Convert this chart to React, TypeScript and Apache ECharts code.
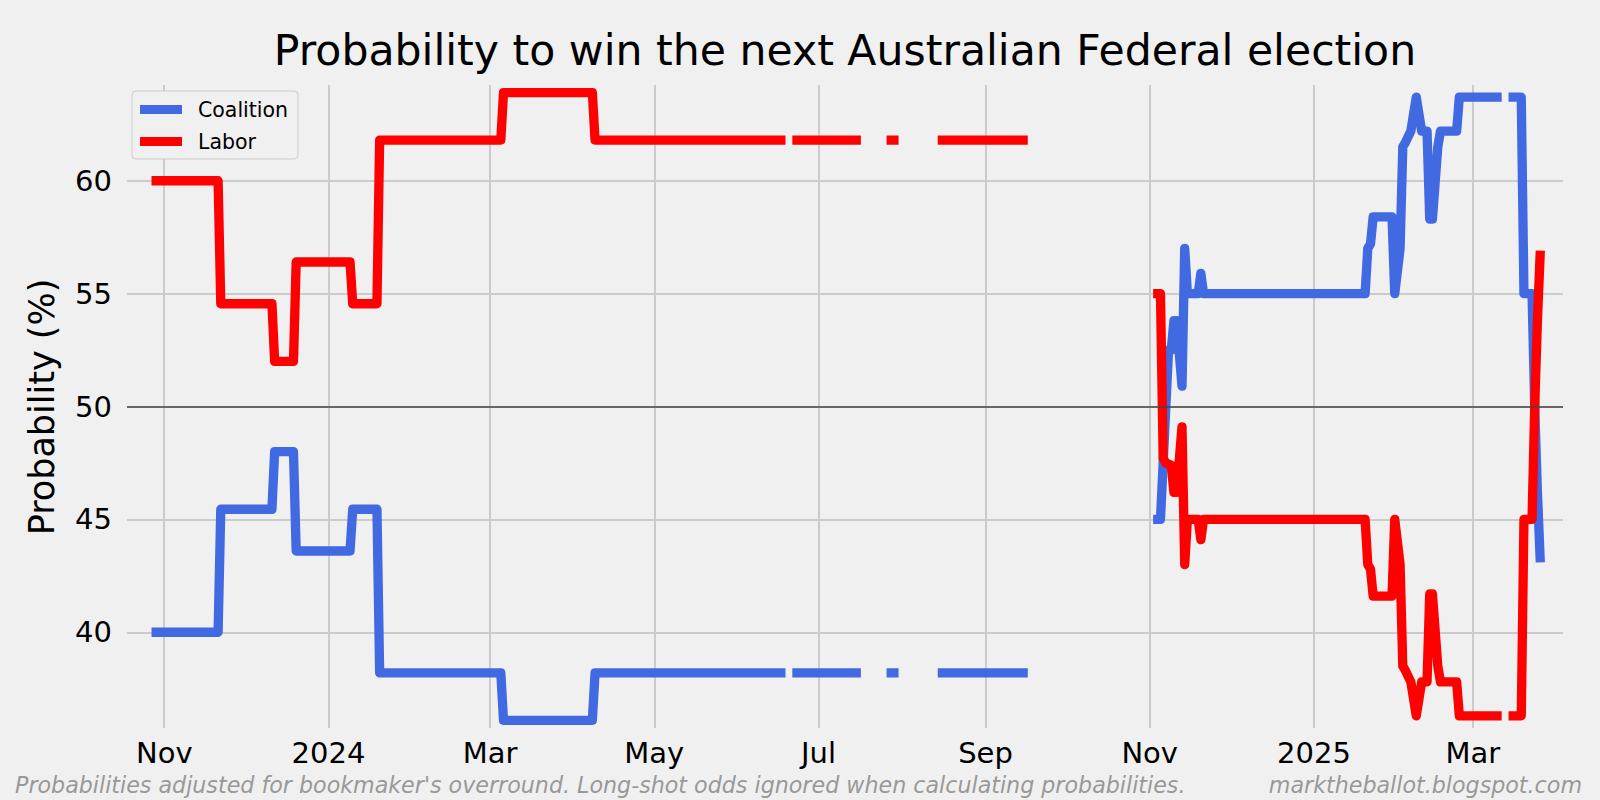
import React, { useEffect, useRef } from "react";
import * as echarts from "echarts";

// ---- data ----
const coalition: [string, number | null][] = [
  ["2023-10-29", 40.0], ["2023-11-21", 40.0], ["2023-11-22", 45.45], ["2023-12-11", 45.45],
  ["2023-12-12", 48.0], ["2023-12-19", 48.0], ["2023-12-20", 43.6], ["2024-01-09", 43.6],
  ["2024-01-10", 45.45], ["2024-01-19", 45.45], ["2024-01-20", 38.2], ["2024-03-05", 38.2],
  ["2024-03-06", 36.1], ["2024-04-08", 36.1], ["2024-04-09", 38.2], ["2024-06-17", 38.2],
  ["2024-06-20", null], ["2024-06-23", 38.2], ["2024-07-15", 38.2], ["2024-07-20", null],
  ["2024-07-28", 38.2], ["2024-07-29", 38.2], ["2024-08-05", null], ["2024-08-16", 38.2],
  ["2024-09-15", 38.2], ["2024-10-10", null],
  ["2024-11-04", 45.0], ["2024-11-05", 45.0], ["2024-11-08", 52.5], ["2024-11-09", 52.5],
  ["2024-11-10", 53.8], ["2024-11-11", 53.8], ["2024-11-13", 50.9], ["2024-11-14", 57.0],
  ["2024-11-15", 55.0], ["2024-11-19", 55.0], ["2024-11-20", 55.9], ["2024-11-21", 55.0],
  ["2025-01-20", 55.0], ["2025-01-21", 57.0], ["2025-01-22", 57.2], ["2025-01-23", 58.4],
  ["2025-01-30", 58.4], ["2025-01-31", 55.0], ["2025-02-02", 57.0], ["2025-02-03", 61.5],
  ["2025-02-04", 61.7], ["2025-02-06", 62.2], ["2025-02-08", 63.7], ["2025-02-10", 62.2],
  ["2025-02-12", 62.2], ["2025-02-13", 58.3], ["2025-02-14", 58.3], ["2025-02-16", 61.5],
  ["2025-02-17", 62.2], ["2025-02-23", 62.2], ["2025-02-24", 63.7], ["2025-03-10", 63.7],
  ["2025-03-13", null], ["2025-03-16", 63.7], ["2025-03-19", 63.7], ["2025-03-20", 55.0],
  ["2025-03-23", 55.0], ["2025-03-24", 50.0], ["2025-03-25", 46.2], ["2025-03-26", 43.3],
];

const labor: [string, number | null][] = [
  ["2023-10-29", 60.0], ["2023-11-21", 60.0], ["2023-11-22", 54.55], ["2023-12-11", 54.55],
  ["2023-12-12", 52.0], ["2023-12-19", 52.0], ["2023-12-20", 56.4], ["2024-01-09", 56.4],
  ["2024-01-10", 54.55], ["2024-01-19", 54.55], ["2024-01-20", 61.8], ["2024-03-05", 61.8],
  ["2024-03-06", 63.9], ["2024-04-08", 63.9], ["2024-04-09", 61.8], ["2024-06-17", 61.8],
  ["2024-06-20", null], ["2024-06-23", 61.8], ["2024-07-15", 61.8], ["2024-07-20", null],
  ["2024-07-28", 61.8], ["2024-07-29", 61.8], ["2024-08-05", null], ["2024-08-16", 61.8],
  ["2024-09-15", 61.8], ["2024-10-10", null],
  ["2024-11-04", 55.0], ["2024-11-05", 55.0], ["2024-11-06", 47.7], ["2024-11-07", 47.5],
  ["2024-11-09", 47.4], ["2024-11-10", 46.2], ["2024-11-11", 46.2], ["2024-11-13", 49.1],
  ["2024-11-14", 43.0], ["2024-11-15", 45.0], ["2024-11-19", 45.0], ["2024-11-20", 44.1],
  ["2024-11-21", 45.0], ["2025-01-20", 45.0], ["2025-01-21", 43.0], ["2025-01-22", 42.8],
  ["2025-01-23", 41.6], ["2025-01-30", 41.6], ["2025-01-31", 45.0], ["2025-02-02", 43.0],
  ["2025-02-03", 38.5], ["2025-02-04", 38.3], ["2025-02-06", 37.8], ["2025-02-08", 36.3],
  ["2025-02-10", 37.8], ["2025-02-12", 37.8], ["2025-02-13", 41.7], ["2025-02-14", 41.7],
  ["2025-02-16", 38.5], ["2025-02-17", 37.8], ["2025-02-23", 37.8], ["2025-02-24", 36.3],
  ["2025-03-10", 36.3], ["2025-03-13", null], ["2025-03-16", 36.3], ["2025-03-19", 36.3],
  ["2025-03-20", 45.0], ["2025-03-23", 45.0], ["2025-03-24", 50.0], ["2025-03-25", 53.8],
  ["2025-03-26", 56.7],
];

const xTickDates = [
  "2023-11-01", "2024-01-01", "2024-03-01", "2024-05-01", "2024-07-01",
  "2024-09-01", "2024-11-01", "2025-01-01", "2025-03-01",
];
const xTickLabels = ["Nov", "2024", "Mar", "May", "Jul", "Sep", "Nov", "2025", "Mar"];
const yTicks = [40, 45, 50, 55, 60];
const referenceLevel = 50;

const titleText = "Probability to win the next Australian Federal election";
const yAxisTitle = "Probability (%)";
const footLeft =
  "Probabilities adjusted for bookmaker's overround. Long-shot odds ignored when calculating probabilities.";
const footRight = "marktheballot.blogspot.com";

const FONT = "DejaVu Sans";

const toTs = (s: string) => {
  const [y, m, d] = s.split("-").map(Number);
  return Date.UTC(y, m - 1, d);
};
const toSeries = (arr: [string, number | null][]) =>
  arr.map(([d, v]) => [toTs(d), v === null ? "-" : v]);

export default function App() {
  const ref = useRef<HTMLDivElement>(null);

  useEffect(() => {
    if (!ref.current) return;
    const chart = echarts.init(ref.current, undefined, { renderer: "svg" });
    const xTickTs = xTickDates.map(toTs);

    const option: any = {
      animation: false,
      backgroundColor: "#f0f0f0",
      textStyle: { fontFamily: FONT },
      grid: { left: 127, right: 37, top: 85, bottom: 72 },
      legend: {
        data: ["Coalition", "Labor"],
        orient: "vertical",
        left: 132,
        top: 91,
        icon: "rect",
        itemWidth: 42,
        itemHeight: 9,
        itemGap: 11,
        padding: [8, 10, 7, 8],
        backgroundColor: "#f0f0f0",
        borderColor: "#cccccc",
        borderWidth: 1,
        borderRadius: 4,
        textStyle: { fontFamily: FONT, fontSize: 20.5, color: "#000", padding: [0, 0, 0, 11] },
      },
      xAxis: {
        type: "value",
        min: Date.UTC(2023, 9, 18, 4),
        max: Date.UTC(2025, 3, 3, 12),
        axisLine: { show: false },
        axisTick: { show: false, customValues: xTickTs },
        splitLine: { show: true, lineStyle: { color: "#cbcbcb", width: 2 } },
        axisLabel: {
          customValues: xTickTs,
          margin: 10,
          fontSize: 29,
          fontFamily: FONT,
          color: "#000",
          formatter: (val: number) => {
            const i = xTickTs.findIndex((t) => Math.abs(t - val) < 3600 * 1000 * 12);
            return i >= 0 ? xTickLabels[i] : "";
          },
        },
      },
      yAxis: {
        type: "value",
        min: 35.76,
        max: 64.24,
        axisLine: { show: false },
        axisTick: { show: false, customValues: yTicks },
        splitLine: { show: true, lineStyle: { color: "#cbcbcb", width: 2 } },
        axisLabel: {
          customValues: yTicks,
          margin: 15,
          fontSize: 29,
          fontFamily: FONT,
          color: "#000",
        },
      },
      graphic: [
        {
          type: "text",
          x: 845,
          y: 50,
          style: {
            text: titleText,
            font: `42.6px "${FONT}"`,
            textAlign: "center",
            textVerticalAlign: "middle",
            fill: "#000",
          },
        },
        {
          type: "text",
          x: 42,
          y: 407,
          rotation: Math.PI / 2,
          style: {
            text: yAxisTitle,
            font: `35px "${FONT}"`,
            textAlign: "center",
            textVerticalAlign: "middle",
            fill: "#000",
          },
        },
        {
          type: "text",
          x: 15,
          y: 785,
          style: {
            text: footLeft,
            font: `italic 22.2px "${FONT}"`,
            textAlign: "left",
            textVerticalAlign: "middle",
            fill: "#999999",
          },
        },
        {
          type: "text",
          x: 1582,
          y: 785,
          style: {
            text: footRight,
            font: `italic 22.2px "${FONT}"`,
            textAlign: "right",
            textVerticalAlign: "middle",
            fill: "#999999",
          },
        },
      ],
      series: [
        {
          name: "Coalition",
          type: "line",
          data: toSeries(coalition),
          showSymbol: false,
          connectNulls: false,
          color: "#4169e1",
          lineStyle: { width: 9.3, color: "#4169e1", cap: "square", join: "round" },
          z: 2,
        },
        {
          name: "Labor",
          type: "line",
          data: toSeries(labor),
          showSymbol: false,
          connectNulls: false,
          color: "#ff0000",
          lineStyle: { width: 9.3, color: "#ff0000", cap: "square", join: "round" },
          z: 3,
        },
        {
          name: "ref",
          type: "line",
          data: [],
          z: 4,
          markLine: {
            silent: true,
            symbol: "none",
            label: { show: false },
            lineStyle: { color: "#444444", width: 1.5, type: "solid" },
            data: [{ yAxis: referenceLevel }],
          },
        },
      ],
    };

    chart.setOption(option);
    return () => chart.dispose();
  }, []);

  return (
    <div
      ref={ref}
      style={{ position: "absolute", left: 0, top: 0, width: 1600, height: 800 }}
    />
  );
}
